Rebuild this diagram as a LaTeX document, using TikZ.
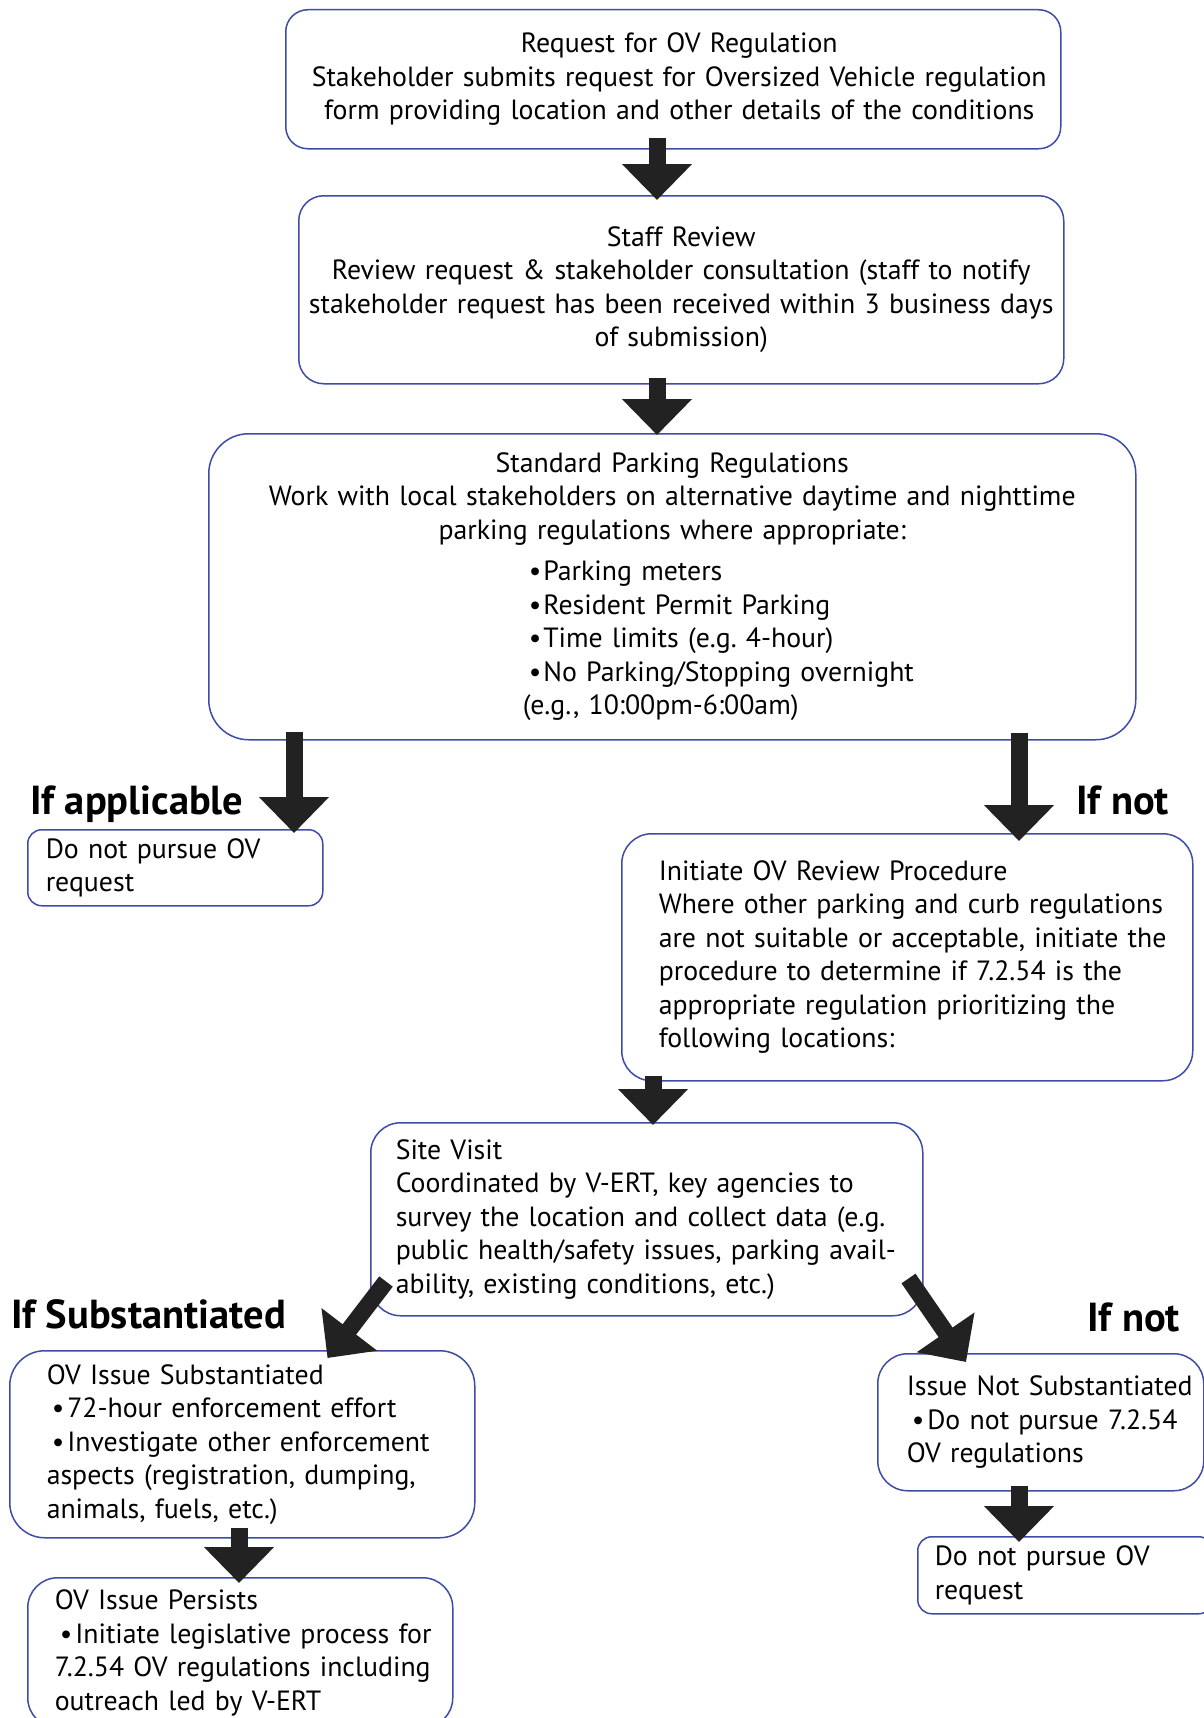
\documentclass[tikz,border=0pt]{standalone}
\usepackage{fontspec}
\setmainfont{PT Sans}
\usetikzlibrary{arrows.meta,calc}
\definecolor{boxblue}{RGB}{62,76,168}
\definecolor{arrowdark}{RGB}{34,34,34}
\begin{document}
\begin{tikzpicture}[x=1pt,y=-1pt,
  box/.style={draw=boxblue, line width=1.5pt, rounded corners=#1, inner sep=0pt,
    anchor=north west, font=\fontsize{27.8}{33.5}\selectfont},
  box/.default=25pt,
  dims/.style n args={2}{text width=#1, minimum width=#1, minimum height=#2},
  lbl/.style={anchor=base west, inner sep=0pt, font=\fontsize{40.5}{44}\selectfont\bfseries},
  bigarrow/.style={draw=arrowdark, line width=17pt, -{Triangle[width=68pt,length=36pt]}}]
\fill[white] (0,0) rectangle (1204,1718);
\useasboundingbox (0,0) rectangle (1204,1718);
\newcommand{\bl}{\hspace*{5pt}\textbullet\hspace{3pt}}

\node[box=22pt, dims={775pt}{139pt}, align=center] (b1) at (285,9)
  {\leftskip=12pt plus 1fil\rightskip=0pt plus 1fil\relax
   Request for OV Regulation\\
   Stakeholder submits request for Oversized Vehicle regulation\\
   form providing location and other details of the conditions\par};

\node[box=25pt, dims={765pt}{188pt}, align=center] (b2) at (298,195)
  {Staff Review\\
   Review request \& stakeholder consultation (staff to notify\\
   stakeholder request has been received within 3 business days\\
   of submission)};

\node[box=40pt, dims={927pt}{306pt}, align=left] (b3) at (208,433)
  {\makebox[\linewidth]{Standard Parking Regulations}\\
   \makebox[\linewidth]{Work with local stakeholders on alternative daytime and nighttime}\\
   \makebox[\linewidth]{parking regulations where appropriate:}\\[8pt]
   \leftskip=320pt\relax
   \textbullet\hspace{2pt}Parking meters\\
   \textbullet\hspace{2pt}Resident Permit Parking\\
   \textbullet\hspace{2pt}Time limits (e.g.\ 4-hour)\\
   \textbullet\hspace{2pt}No Parking/Stopping overnight\\
   \leftskip=314pt\relax
   (e.g., 10:00pm-6:00am)\par};

\node[box=14pt, dims={295pt}{76pt}, align=left] (b4) at (27,829)
  {\leftskip=18pt\relax Do not pursue OV\\ request\par};

\node[box=30pt, dims={571pt}{247pt}, align=left] (b5) at (621,833)
  {\leftskip=37pt\relax Initiate OV Review Procedure\\
   Where other parking and curb regulations\\
   are not suitable or acceptable, initiate the\\
   procedure to determine if 7.2.54 is the\\
   appropriate regulation prioritizing the\\
   following locations:\par};

\node[box=30pt, dims={552pt}{193pt}, align=left] (b6) at (370,1122)
  {\leftskip=25pt\relax Site Visit\\
   Coordinated by V-ERT, key agencies to\\
   survey the location and collect data (e.g.\\
   public health/safety issues, parking avail-\\
   ability, existing conditions, etc.)\par};

\node[box=35pt, dims={465pt}{187pt}, align=left] (b7) at (9,1350)
  {\leftskip=37pt\relax OV Issue Substantiated\\
   \bl 72-hour enforcement effort\\
   \bl Investigate other enforcement\\
   aspects (registration, dumping,\\
   animals, fuels, etc.)\par};

\node[box=30pt, dims={425pt}{150pt}, align=left] (b8) at (27,1577)
  {\leftskip=27pt\relax OV Issue Persists\\
   \bl Initiate legislative process for\\
   7.2.54 OV regulations including\\
   outreach led by V-ERT\par};

\node[box=30pt, dims={326pt}{137pt}, align=left] (b9) at (877,1353)
  {\leftskip=29pt\relax Issue Not Substantiated\\
   \bl Do not pursue 7.2.54\\
   OV regulations\par};

\node[box=14pt, dims={295pt}{77pt}, align=left] (b10) at (917,1536)
  {\leftskip=17pt\relax Do not pursue OV\\ request\par};

\node[lbl] (l1) at (30,814) {If applicable};
\node[lbl] (l2) at (1076,814) {If not};
\node[lbl] (l3) at (11,1328) {If Substantiated};
\node[lbl] (l4) at (1087,1331) {If not};

\draw[bigarrow] ($(b1.south west)+(372,-11)$) -- ($(b2.north west)+(359,5)$);
\draw[bigarrow] ($(b2.south west)+(359,-7)$) -- ($(b3.north west)+(449,2)$);
\draw[bigarrow] ($(b3.south west)+(86,-9)$) -- ($(b4.north west)+(267,4)$);
\draw[bigarrow] ($(b3.south west)+(811,-8)$) -- ($(b5.north west)+(398,8)$);
\draw[bigarrow] ($(b5.south west)+(32,-6)$) -- ($(b6.north west)+(283,3)$);
\draw[bigarrow] ($(b6.south west)+(16,-35)$) -- ($(b7.north east)+(-148,8)$);
\draw[bigarrow] ($(b6.south east)+(-15,-38)$) -- ($(b9.north west)+(89,9)$);
\draw[bigarrow] ($(b7.south west)+(230,-11)$) -- ($(b8.north west)+(212,6)$);
\draw[bigarrow] ($(b9.south west)+(142,-6)$) -- ($(b10.north west)+(102,6)$);
\end{tikzpicture}
\end{document}
